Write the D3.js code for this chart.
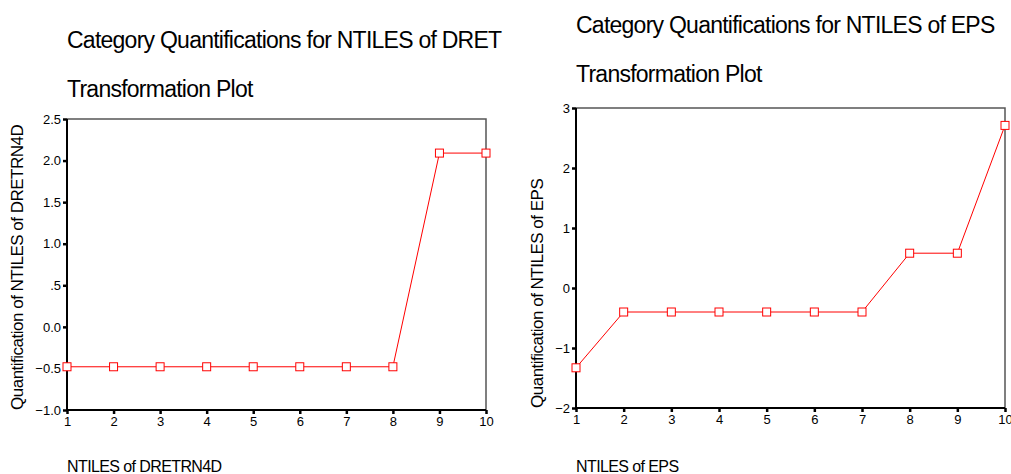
<!DOCTYPE html>
<meta charset="utf-8">
<style>
body { margin: 0; background: #fff; font-family: 'Liberation Sans', Arial, sans-serif; }
.title { font-size: 23px; letter-spacing: -0.75px; fill: #000; }
.axtitle { font-size: 16px; letter-spacing: -0.6px; fill: #000; }
.ytitle { font-size: 17px; letter-spacing: -0.5px; fill: #000; }
.tick text { font-family: 'Liberation Sans', Arial, sans-serif; font-size: 13px; fill: #000; }
.tick line { stroke: #000; stroke-width: 2.5; }
</style>
<body>
<svg class="chart"></svg>
<script src="https://d3js.org/d3.v7.min.js"></script>
<script>
// chart size
let rwidth = 1011, rheight = 474;

// NTILES categories (x)
let ntiles = [1, 2, 3, 4, 5, 6, 7, 8, 9, 10];

// quantifications
let dretQuant = [-0.48, -0.48, -0.48, -0.48, -0.48, -0.48, -0.48, -0.48, 2.09, 2.09];
let epsQuant = [-1.33, -0.40, -0.40, -0.40, -0.40, -0.40, -0.40, 0.58, 0.58, 2.71];

// y tick values
let dretTicks = [-1.0, -0.5, 0.0, 0.5, 1.0, 1.5, 2.0, 2.5];
let epsTicks = [-2, -1, 0, 1, 2, 3];

let svg = d3.select('.chart').attr('width', rwidth).attr('height', rheight);

// SPSS style: ".5", "-.5", "0.0"
let spssFmt = d => d === 0 ? '0.0' : d3.format('.1f')(d).replace(/^(-?)0\./, '$1.');

let panels = [
  {left: 67, right: 486, top: 119, bottom: 410,
   title: 'Category Quantifications for NTILES of DRET', titleY: 48, subY: 97,
   xTitle: 'NTILES of DRETRN4D', yTitle: 'Quantification of NTILES of DRETRN4D', yTitleX: 23,
   values: dretQuant, yDomain: [-1.0, 2.5], ticks: dretTicks, fmt: spssFmt},
  {left: 576, right: 1005, top: 108, bottom: 408,
   title: 'Category Quantifications for NTILES of EPS', titleY: 33, subY: 82,
   xTitle: 'NTILES of EPS', yTitle: 'Quantification of NTILES of EPS', yTitleX: 543,
   values: epsQuant, yDomain: [-2, 3], ticks: epsTicks, fmt: d3.format('d')}
];

panels.forEach(p => {
  let g = svg.append('g');

  let xscale = d3.scaleLinear().domain([1, 10]).range([p.left, p.right]);
  let yscale = d3.scaleLinear().domain(p.yDomain).range([p.bottom, p.top]);

  // frame: top + right grey
  g.append('path')
   .attr('d', `M${p.left},${p.top}H${p.right}V${p.bottom}`)
   .attr('fill', 'none').attr('stroke', '#555').attr('stroke-width', 1.5);

  let xaxis = g.append('g').attr('transform', `translate(0,${p.bottom})`)
    .call(d3.axisBottom(xscale).tickValues(ntiles).tickSize(4).tickPadding(3).tickFormat(d3.format('d')));
  xaxis.select('.domain').remove();

  let yaxis = g.append('g').attr('transform', `translate(${p.left},0)`)
    .call(d3.axisLeft(yscale).tickValues(p.ticks).tickSize(4).tickPadding(2).tickFormat(p.fmt));
  yaxis.select('.domain').remove();

  // frame: left + bottom black
  g.append('path')
   .attr('d', `M${p.left},${p.top}V${p.bottom}H${p.right}`)
   .attr('fill', 'none').attr('stroke', '#000').attr('stroke-width', 2);

  let pts = ntiles.map((n, i) => ({x: n, y: p.values[i]}));

  let line = d3.line().x(d => xscale(d.x)).y(d => yscale(d.y));
  g.append('path').datum(pts)
   .attr('d', line)
   .attr('fill', 'none').attr('stroke', '#ff0000').attr('stroke-width', 1);

  g.selectAll('rect.mk').data(pts).join('rect')
   .attr('class', 'mk')
   .attr('x', d => xscale(d.x) - 4).attr('y', d => yscale(d.y) - 4)
   .attr('width', 8).attr('height', 8)
   .attr('fill', '#fff').attr('stroke', '#ff0000').attr('stroke-width', 1);

  // titles
  g.append('text').attr('class', 'title').attr('x', p.left).attr('y', p.titleY).text(p.title);
  g.append('text').attr('class', 'title').attr('x', p.left).attr('y', p.subY).text('Transformation Plot');

  g.append('text').attr('class', 'axtitle').attr('x', p.left).attr('y', 472).text(p.xTitle);

  g.append('text').attr('class', 'ytitle')
   .attr('transform', `translate(${p.yTitleX},${p.bottom}) rotate(-90)`)
   .attr('x', 0).attr('y', 0)
   .text(p.yTitle);
});
</script>
</body>
